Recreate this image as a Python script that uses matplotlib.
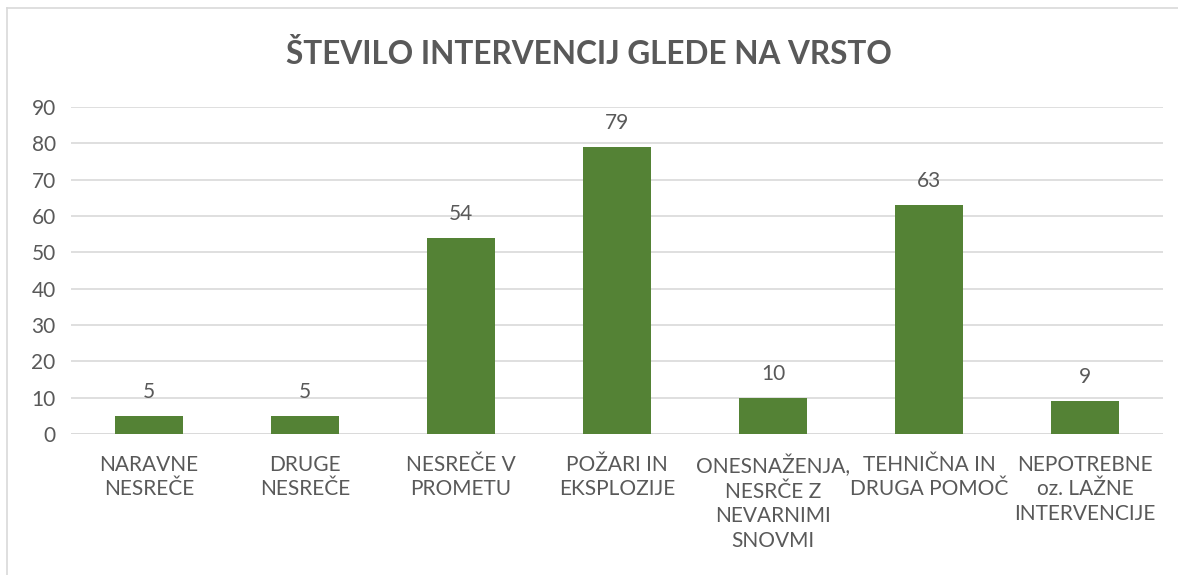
import matplotlib
matplotlib.use("Agg")
import matplotlib.pyplot as plt
from matplotlib.lines import Line2D

categories = ["NARAVNE\nNESREČE", "DRUGE\nNESREČE", "NESREČE V\nPROMETU", "POŽARI IN\nEKSPLOZIJE",
              "ONESNAŽENJA,\nNESRČE Z\nNEVARNIMI\nSNOVMI", "TEHNIČNA IN\nDRUGA POMOČ",
              "NEPOTREBNE\noz. LAŽNE\nINTERVENCIJE"]
values = [5, 5, 54, 79, 10, 63, 9]
yticks = [0, 10, 20, 30, 40, 50, 60, 70, 80, 90]
title = "ŠTEVILO INTERVENCIJ GLEDE NA VRSTO"

plt.rcParams['font.family'] = ['Lato', 'DejaVu Sans']
txt = "#595959"

W, H = 1178, 575
fig = plt.figure(figsize=(W/100, H/100), dpi=100)
ax = fig.add_axes([71/W, 1-434/H, (1163-71)/W, (434-107)/H])

x = list(range(len(categories)))
ax.bar(x, values, width=0.44, color="#548235", zorder=3)
ax.set_xlim(-0.5, len(categories)-0.5)
ax.set_ylim(0, 90)
ax.set_yticks(yticks)
ax.set_yticklabels([str(t) for t in yticks], fontsize=15, color=txt)
ax.set_xticks(x)
ax.set_xticklabels(categories, fontsize=15, color=txt, linespacing=1.28)
ax.tick_params(axis='both', length=0)
ax.tick_params(axis='x', pad=15)
ax.tick_params(axis='y', pad=11)
ax.grid(axis='y', color="#d9d9d9", linewidth=1.2, zorder=0)
for s in ax.spines.values():
    s.set_visible(False)
ax.axhline(0, color="#d9d9d9", linewidth=1.2, zorder=2)

for xi, v in zip(x, values):
    ax.annotate(str(v), (xi, v), xytext=(0, 10), textcoords="offset points",
                ha="center", va="bottom", fontsize=15, color=txt)

fig.text(0.5, 1-54/H, title, ha="center", va="center", fontsize=22.7,
         fontweight="bold", color=txt)

fig.add_artist(Line2D([7/W, 7/W], [0, 1-8/H], color="#d9d9d9", lw=1.2, transform=fig.transFigure))
fig.add_artist(Line2D([7/W, 1], [1-8/H, 1-8/H], color="#d9d9d9", lw=1.2, transform=fig.transFigure))

fig.savefig("out.png", dpi=100)
